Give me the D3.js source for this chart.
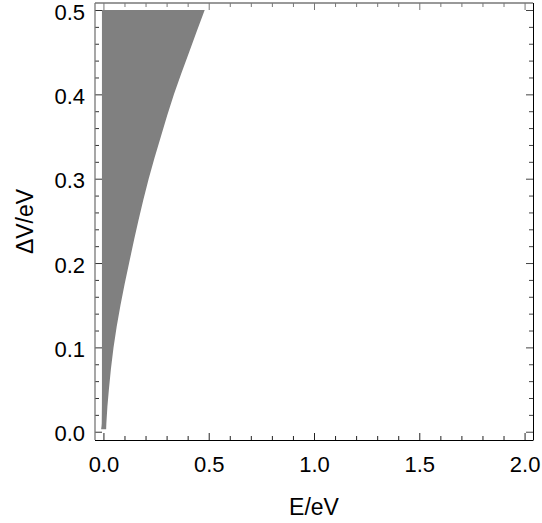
<!DOCTYPE html>
<html>
<head>
<meta charset="utf-8">
<script src="https://cdn.jsdelivr.net/npm/d3@7"></script>
<style>
  html, body { margin: 0; padding: 0; background: #fff; }
  svg { display: block; }
  text { font-family: "Liberation Sans", Arial, Helvetica, sans-serif; }
</style>
</head>
<body>
<svg id="chart" width="542" height="523"></svg>
<script>
// ---- data ----
const deltaV = [0.003, 0.01, 0.05, 0.1, 0.15, 0.2, 0.25, 0.3, 0.35, 0.4, 0.45, 0.5];
const eRight = [0.013, 0.014, 0.026, 0.048, 0.081, 0.122, 0.166, 0.215, 0.273, 0.335, 0.407, 0.481];
const eLeft  = [-0.011, -0.008, -0.007, -0.007, -0.007, -0.007, -0.007, -0.007, -0.007, -0.007, -0.007, -0.007];
const xMajorTicks = [0.0, 0.5, 1.0, 1.5, 2.0];
const yMajorTicks = [0.0, 0.1, 0.2, 0.3, 0.4, 0.5];
const xLabel = "E/eV";
const yLabel = "\u0394V/eV";

// ---- layout ----
const svg = d3.select("#chart");
const L = 95, R = 533, T = 3, B = 440;
const x = d3.scaleLinear().domain([-0.04, 2.04]).range([L, R]);
const y = d3.scaleLinear().domain([-0.0098, 0.5083]).range([B, T]);

const xMinor = d3.range(0, 2.0001, 0.1).filter(v => !xMajorTicks.some(m => Math.abs(m - v) < 1e-9));
const yMinor = d3.range(0, 0.5001, 0.02).filter(v => !yMajorTicks.some(m => Math.abs(m - v) < 1e-9));

// ---- region ----
const rows = deltaV.map((v, i) => ({ v, l: eLeft[i], r: eRight[i] }));
const area = d3.area()
  .y(d => y(d.v))
  .x0(d => x(d.l))
  .x1(d => x(d.r))
  .curve(d3.curveMonotoneY);

svg.append("path")
  .datum(rows)
  .attr("d", area)
  .attr("fill", "#808080")
  .attr("stroke", "none");

// ---- frame with axes ----
function fmt(v) { return d3.format(".1f")(v); }

const major = 7, minor = 4;

// bottom
const gB = svg.append("g").attr("transform", `translate(0,${B})`);
gB.call(d3.axisBottom(x).tickValues(xMajorTicks).tickSize(-major).tickFormat(fmt).tickPadding(16));
gB.append("g").call(d3.axisBottom(x).tickValues(xMinor).tickSize(-minor).tickFormat(""));
// top
const gT = svg.append("g").attr("transform", `translate(0,${T})`);
gT.call(d3.axisTop(x).tickValues(xMajorTicks).tickSize(-major).tickFormat(""));
gT.append("g").call(d3.axisTop(x).tickValues(xMinor).tickSize(-minor).tickFormat(""));
// left
const gL = svg.append("g").attr("transform", `translate(${L},0)`);
gL.call(d3.axisLeft(y).tickValues(yMajorTicks).tickSize(-major).tickFormat(fmt).tickPadding(10));
gL.append("g").call(d3.axisLeft(y).tickValues(yMinor).tickSize(-minor).tickFormat(""));
// right
const gR = svg.append("g").attr("transform", `translate(${R},0)`);
gR.call(d3.axisRight(y).tickValues(yMajorTicks).tickSize(-major).tickFormat(""));
gR.append("g").call(d3.axisRight(y).tickValues(yMinor).tickSize(-minor).tickFormat(""));

svg.selectAll(".domain").attr("stroke", "none");
gB.selectAll("line").attr("stroke", "#222");
gL.selectAll("line").attr("stroke", "#333");
gT.selectAll("line").attr("stroke", "#777");
gR.selectAll("line").attr("stroke", "#444");

// frame lines
svg.append("line").attr("x1", L).attr("x2", L).attr("y1", T).attr("y2", B).attr("stroke", "#777").attr("stroke-width", 1.3);
svg.append("line").attr("x1", L).attr("x2", R).attr("y1", T).attr("y2", T).attr("stroke", "#777").attr("stroke-width", 1.3);
svg.append("line").attr("x1", L).attr("x2", R + 0.5).attr("y1", B + 0.5).attr("y2", B + 0.5).attr("stroke", "#000").attr("stroke-width", 1);
svg.append("line").attr("x1", R + 0.5).attr("x2", R + 0.5).attr("y1", T).attr("y2", B).attr("stroke", "#000").attr("stroke-width", 1);

svg.selectAll(".tick text")
  .attr("font-family", "'Liberation Sans', Arial, Helvetica, sans-serif")
  .attr("font-size", 22)
  .attr("fill", "#000");
gL.selectAll(".tick text").attr("dy", "0.42em");

// axis labels
svg.append("text")
  .attr("x", (L + R) / 2).attr("y", 515)
  .attr("text-anchor", "middle")
  .attr("font-size", 23)
  .attr("fill", "#000")
  .text(xLabel);

svg.append("text")
  .attr("transform", `translate(33,${(T + B) / 2}) rotate(-90)`)
  .attr("text-anchor", "middle")
  .attr("font-size", 23)
  .attr("fill", "#000")
  .text(yLabel);
</script>
</body>
</html>
